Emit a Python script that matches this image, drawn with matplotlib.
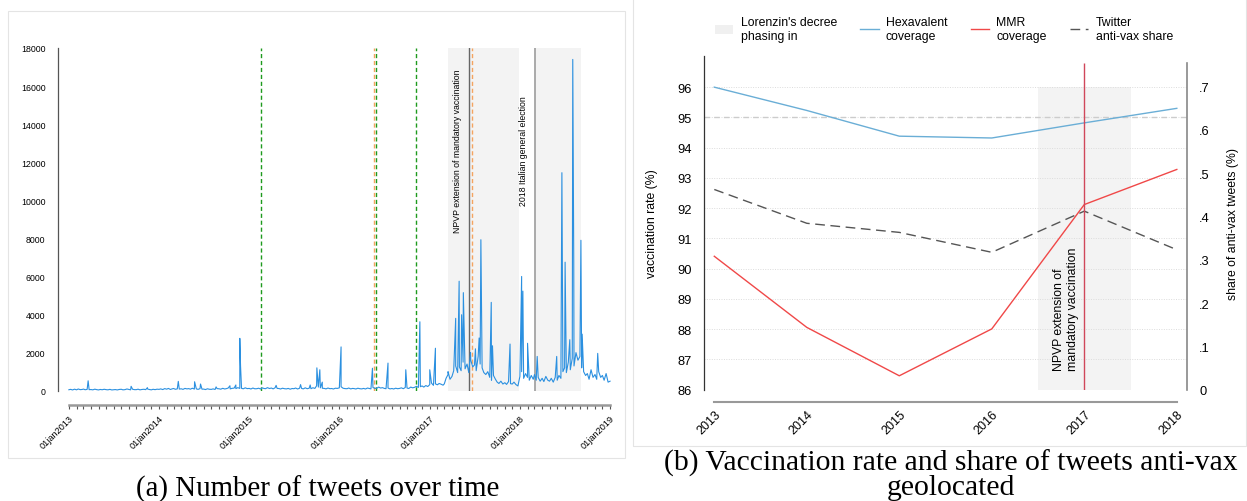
import numpy as np
import pandas as pd
import matplotlib
matplotlib.use("Agg")
import matplotlib.pyplot as plt
import matplotlib.dates as mdates
from matplotlib.patches import Patch, Rectangle
from matplotlib.lines import Line2D

plt.rcParams['font.family'] = ['Liberation Sans', 'DejaVu Sans']

# ---------------- data: panel (a) daily tweets ----------------
# baseline readings, 4 per month (days 1, 8, 16, 24)
base_2013 = [50, 70, 40, 80, 45, 90, 55, 65, 85, 50, 70, 55, 60, 45, 80, 55, 40, 65, 50, 75, 55, 45, 70, 40,
             50, 60, 40, 65, 75, 45, 55, 90, 65, 45, 75, 55, 55, 80, 45, 65, 75, 55, 85, 60, 45, 75, 55, 80]
base_2014 = [70, 95, 60, 110, 80, 120, 65, 100, 115, 75, 95, 85, 100, 70, 120, 95, 110, 80, 130, 85, 95, 70, 110, 80,
             85, 60, 100, 75, 70, 95, 65, 110, 100, 80, 125, 90, 110, 140, 95, 125, 135, 110, 160, 120, 125, 100, 150, 110]
base_2015 = [120, 90, 140, 100, 105, 130, 90, 150, 120, 105, 160, 115, 140, 95, 155, 120, 115, 90, 130, 105, 95, 120, 80, 115,
             105, 140, 90, 130, 120, 95, 150, 105, 130, 105, 155, 120, 260, 190, 150, 130, 120, 95, 140, 105, 115, 90, 130, 120]
base_2016 = [150, 210, 130, 110, 105, 140, 95, 120, 110, 90, 130, 105, 95, 120, 90, 140, 115, 95, 170, 120, 130, 190, 140, 160,
             120, 105, 140, 95, 115, 90, 130, 105, 120, 150, 105, 170, 140, 115, 190, 150, 180, 230, 170, 210, 250, 190, 270, 220]
base_2017 = [320, 400, 280, 360, 310, 380, 340, 290, 360, 650, 850, 600, 750, 1050, 1300, 950, 1250, 1050, 1500, 1150,
             1400, 950, 1600, 1250, 1350, 1050, 1800, 1400, 1200, 950, 850, 1000, 700, 550, 800, 600, 450, 380, 500, 350,
             420, 330, 480, 370, 350, 450, 320, 250]
base_2018 = [750, 1000, 650, 900, 700, 550, 800, 600, 850, 550, 700, 500, 650, 480, 750, 550, 500, 650, 450, 700,
             550, 800, 650, 1000, 1200, 950, 1500, 1100, 1700, 1300, 2000, 1600, 1800, 1200, 1000, 800, 900, 600, 1100, 700,
             850, 600, 1000, 700, 800, 550, 900, 450]
base_end = 500

spike_dates = ['2013-03-20', '2013-09-10', '2013-11-15', '2014-03-20', '2014-05-25', '2014-06-18', '2014-08-20',
               '2014-10-15', '2014-11-08', '2014-11-24', '2014-11-27', '2015-04-20', '2015-07-28', '2015-09-05',
               '2015-10-02', '2015-10-14', '2015-10-24', '2016-01-08', '2016-05-14', '2016-07-16', '2016-09-26',
               '2016-11-22', '2017-01-01', '2017-01-24', '2017-03-16', '2017-04-16', '2017-04-30', '2017-05-10',
               '2017-05-17', '2017-06-15', '2017-07-05', '2017-07-20', '2017-07-27', '2017-09-07', '2017-09-12',
               '2017-11-22', '2018-01-08', '2018-01-13', '2018-02-01', '2018-03-12', '2018-05-30', '2018-06-20',
               '2018-07-03', '2018-07-22', '2018-08-03', '2018-08-07', '2018-09-05', '2018-09-10', '2018-11-12']
spike_values = [520, 230, 160, 490, 470, 350, 200,
                260, 300, 2750, 1300, 280, 320, 300,
                1200, 1100, 450, 2300, 1180, 1450, 1100,
                3620, 1100, 2230, 1000, 3800, 5750, 3990,
                5150, 2000, 2200, 2770, 7930, 4640, 2360,
                2450, 6000, 5230, 2490, 1800, 1800, 11450,
                6750, 2680, 17400, 6800, 7900, 2970, 1960]

green_events = ['2015-02-16', '2016-05-29', '2016-11-08']
orange_events = ['2016-05-22', '2017-06-21']
npvp_date = '2017-06-07'
election_date = '2018-03-04'
shade_periods = [('2017-03-16', '2017-12-29'), ('2018-03-04', '2018-09-05')]

# ---------------- data: panel (b) ----------------
years = [2013, 2014, 2015, 2016, 2017, 2018]
hexavalent = [96.0, 95.23, 94.38, 94.32, 94.82, 95.30]
mmr = [90.41, 88.06, 86.46, 88.01, 92.12, 93.28]
antivax_share = [0.462, 0.384, 0.363, 0.317, 0.412, 0.323]
decree_span = (2016.5, 2017.5)

# ---------------- build series ----------------
base_vals = base_2013 + base_2014 + base_2015 + base_2016 + base_2017 + base_2018
base_dates = []
for y in range(2013, 2019):
    for m in range(1, 13):
        for d in (1, 8, 16, 24):
            base_dates.append(pd.Timestamp(y, m, d))
base_dates.append(pd.Timestamp(2019, 1, 1))
base_vals = base_vals + [base_end]

ts = pd.Series(base_vals + spike_values,
               index=base_dates + [pd.Timestamp(s) for s in spike_dates]).sort_index()
dnum = mdates.date2num
ts_x = dnum(ts.index.to_pydatetime())

W, H = 1247, 502
fig = plt.figure(figsize=(W / 100, H / 100), dpi=100)


def fx(px):
    return px / W


def fy(py):
    return 1 - py / H


# panel frames
fig.patches.append(Rectangle((fx(8), fy(459)), fx(625 - 8), (459 - 12) / H, fill=False,
                             edgecolor='#e4e4e4', lw=0.8, transform=fig.transFigure))
fig.patches.append(Rectangle((fx(633), fy(447)), fx(1246 - 633), (447 + 2) / H, fill=False,
                             edgecolor='#e4e4e4', lw=0.8, transform=fig.transFigure))

# ---------------- panel (a) ----------------
ax = fig.add_axes([fx(58), fy(391.7), fx(615 - 58), (391.7 - 49) / H])
ax.set_xlim(dnum(pd.Timestamp('2012-11-18')), dnum(pd.Timestamp('2019-01-21')))
ax.set_ylim(0, 18000)
year_ticks = [dnum(pd.Timestamp(y, 1, 1)) for y in range(2013, 2020)]
month_ticks = [dnum(pd.Timestamp(y, m, 1)) for y in range(2013, 2019) for m in range(1, 13)]

# spines first (moving a spine resets the ticks)
for s in ('top', 'right'):
    ax.spines[s].set_visible(False)
ax.spines['left'].set_color('#555555')
ax.spines['left'].set_linewidth(0.9)
ax.spines['bottom'].set_position(('outward', 10))
ax.spines['bottom'].set_bounds(year_ticks[0], year_ticks[-1])
ax.spines['bottom'].set_color('#999999')
ax.spines['bottom'].set_linewidth(1.8)

for a, b in shade_periods:
    ax.axvspan(dnum(pd.Timestamp(a)), dnum(pd.Timestamp(b)), color='#f3f3f3', zorder=0, lw=0)

ax.plot(ts_x, ts.values, color='#2b90e0', lw=0.8, zorder=3)

for d in green_events:
    ax.axvline(dnum(pd.Timestamp(d)), color='#1e9a1e', ls=(0, (3, 2)), lw=1.0, zorder=2)
for d in orange_events:
    ax.axvline(dnum(pd.Timestamp(d)), color='#f4a460', ls=(0, (3, 2)), lw=1.0, zorder=2)
ax.axvline(dnum(pd.Timestamp(npvp_date)), color='#666666', lw=1.0, zorder=2)
ax.axvline(dnum(pd.Timestamp(election_date)), color='#aaaaaa', lw=1.4, zorder=2)

ax.text(dnum(pd.Timestamp('2017-04-25')), 16900, 'NPVP extension of mandatory vaccination',
        rotation=90, ha='center', va='top', fontsize=6.3)
ax.text(dnum(pd.Timestamp('2018-01-17')), 15500, '2018 Italian general election',
        rotation=90, ha='center', va='top', fontsize=6.3)

ax.set_yticks(range(0, 18001, 2000))
ax.set_xticks(month_ticks, minor=True)
ax.set_xticks(year_ticks)
ax.set_xticklabels([f'01jan{y}' for y in range(2013, 2020)], rotation=45, ha='right',
                   rotation_mode='anchor', fontsize=6.6)
ax.tick_params(axis='y', length=0, pad=9, labelsize=6.3)
ax.tick_params(axis='x', which='both', length=3, color='#555555', width=0.8)

# ---------------- panel (b) ----------------
bx = fig.add_axes([fx(704.3), fy(390.7), fx(1186.7 - 704.3), (390.7 - 57) / H])
bx.set_xlim(2012.892, 2018.107)
bx.set_ylim(86, 97.03)
for s in ('top', 'right'):
    bx.spines[s].set_visible(False)
bx.spines['left'].set_color('#333333')
bx.spines['left'].set_linewidth(0.9)
bx.spines['bottom'].set_position(('outward', 9))
bx.spines['bottom'].set_bounds(2013, 2018)
bx.spines['bottom'].set_color('#999999')
bx.spines['bottom'].set_linewidth(1.5)

bx.set_yticks(range(86, 97))
bx.grid(axis='y', ls=(0, (1, 1.5)), color='#dcdcdc', lw=0.7)
bx.set_axisbelow(True)
bx.fill_between(decree_span, 86, 96, color='#f3f3f3', lw=0, zorder=0)
bx.axhline(95, ls=(0, (4, 3)), color='#cccccc', lw=1.0, zorder=1)
bx.plot(years, hexavalent, color='#6aaed6', lw=1.0, zorder=3)
bx.plot(years, mmr, color='#f04848', lw=1.0, zorder=3)
bx.set_xticks(years)
bx.set_xticklabels([str(y) for y in years], rotation=45, ha='right', rotation_mode='anchor', fontsize=9)
bx.tick_params(axis='x', length=0, pad=4)
bx.tick_params(axis='y', length=0, pad=9, labelsize=9.3)
bx.set_ylabel('vaccination rate (%)', fontsize=8.8, labelpad=14)

br = bx.twinx()
br.set_ylim(0, 0.770)
for s in ('top', 'left', 'bottom'):
    br.spines[s].set_visible(False)
br.spines['right'].set_bounds(0, 0.755)
br.spines['right'].set_color('#888888')
br.spines['right'].set_linewidth(1.2)
br.plot(years, antivax_share, color='#555555', lw=1.0, ls=(0, (7, 4)), zorder=3)
br.vlines(2017, 0, 0.755, color='#d0475a', lw=1.0, zorder=4)
br.set_yticks([0, 0.1, 0.2, 0.3, 0.4, 0.5, 0.6, 0.7])
br.set_yticklabels(['0', '.1', '.2', '.3', '.4', '.5', '.6', '.7'])
br.tick_params(axis='y', length=0, pad=9, labelsize=9.3)
br.set_ylabel('share of anti-vax tweets (%)', fontsize=8.8, labelpad=12)
br.text(2016.8, 0.045, 'NPVP extension of\nmandatory vaccination', rotation=90,
        ha='center', va='bottom', multialignment='left', fontsize=8.8)

handles = [Patch(facecolor='#f0f0f0', edgecolor='none'),
           Line2D([], [], color='#6aaed6', lw=1.0),
           Line2D([], [], color='#f04848', lw=1.0),
           Line2D([], [], color='#555555', lw=1.0, ls=(0, (7, 4)))]
labels = ["Lorenzin's decree\nphasing in", 'Hexavalent\ncoverage', 'MMR\ncoverage', 'Twitter\nanti-vax share']
fig.legend(handles, labels, loc='center', bbox_to_anchor=(fx(944), fy(30)), ncol=4, frameon=False,
           fontsize=8.8, handlelength=1.5, handletextpad=0.6, columnspacing=1.9)

# captions
fig.text(fx(318), fy(489), '(a) Number of tweets over time', family='Liberation Serif',
         fontsize=20.8, ha='center', va='center')
fig.text(fx(951), fy(463), '(b) Vaccination rate and share of tweets anti-vax', family='Liberation Serif',
         fontsize=21.3, ha='center', va='center')
fig.text(fx(951), fy(488), 'geolocated', family='Liberation Serif',
         fontsize=21.3, ha='center', va='center')

fig.savefig('out.png', dpi=100)
